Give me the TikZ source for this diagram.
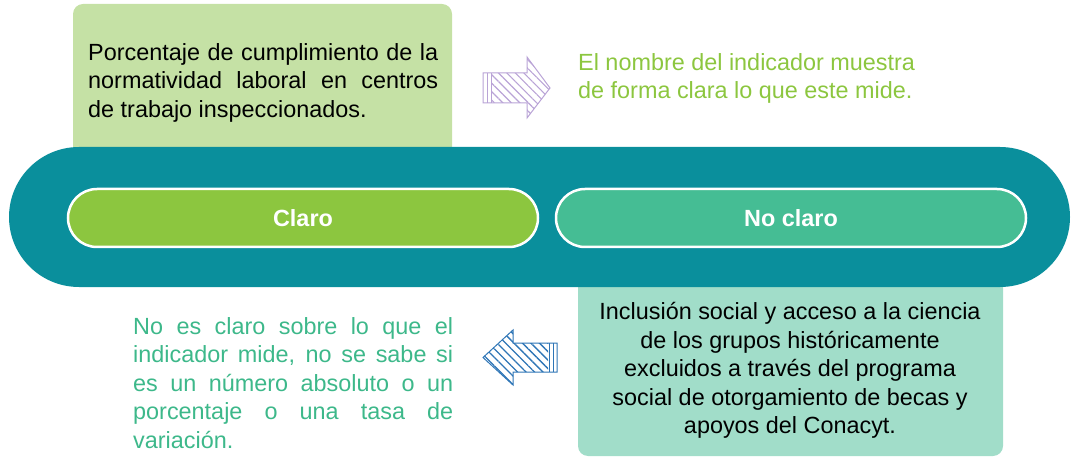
\documentclass[tikz,border=0pt]{standalone}
\usepackage{fontspec}
\setmainfont{Liberation Sans}
\usetikzlibrary{patterns.meta}
\definecolor{band}{HTML}{0A8F9C}
\definecolor{claro}{HTML}{8CC63F}
\definecolor{noclaro}{HTML}{45BD94}
\definecolor{topbox}{HTML}{C5E1A5}
\definecolor{botbox}{HTML}{A1DDC9}
\definecolor{greentxt}{HTML}{8CC63F}
\definecolor{tealtxt}{HTML}{3DB88A}
\definecolor{purp}{HTML}{B9A3D6}
\definecolor{arblue}{HTML}{2E75B6}
\tikzset{
  x=1pt,y=-1pt,
  txt/.style={font=\fontsize{23.4}{28.6}\selectfont, inner sep=0pt, anchor=north west, align=left},
  pill/.style={draw=white, line width=2.5pt, rounded corners=29pt, minimum width=470pt, minimum height=58pt, text=white, font=\fontsize{23.4}{26}\selectfont\bfseries},
  card/.style={rounded corners=10pt},
}
\begin{document}
\begin{tikzpicture}
\useasboundingbox (0,0) rectangle (1071,457);
% cards
\fill[topbox, card] (73,4) rectangle (452,170);
\fill[botbox, card] (578,260) rectangle (1003,456);
% band
\node[fill=band, rounded corners=70pt, minimum width=1061pt, minimum height=140pt, inner sep=0pt] (bandn) at (539.5,217) {};
% pills
\node[pill, fill=claro] (claro) at (303,218) {Claro};
\node[pill, fill=noclaro] (noclaro) at (791,218) {No claro};
% top text
\node[txt, text=black] (t1) at (88,43) {\makebox[350pt][s]{Porcentaje de cumplimiento de la}\\\makebox[350pt][s]{normatividad laboral en centros}\\de trabajo inspeccionados.};
% right text
\node[txt, text=greentxt] (t2) at (578,53) {El nombre del indicador muestra\\de forma clara lo que este mide.};
% bottom left text
\node[txt, text=tealtxt] (t3) at (133,317) {\makebox[320pt][s]{No es claro sobre lo que el}\\\makebox[320pt][s]{indicador mide, no se sabe si}\\\makebox[320pt][s]{es un número absoluto o un}\\\makebox[320pt][s]{porcentaje o una tasa de}\\variación.};
% bottom right text
\node[txt, anchor=north, align=center, text=black] (t4) at (790,302) {Inclusión social y acceso a la ciencia\\de los grupos históricamente\\excluidos a través del programa\\social de otorgamiento de becas y\\apoyos del Conacyt.};
% top arrow
\begin{scope}
\clip (492,73) -- (527,73) -- (527,57) -- (550,88) -- (527,118) -- (527,103) -- (492,103) -- cycle;
\fill[pattern={Lines[angle=-45,distance=6pt,line width=1.1pt]}, pattern color=purp] (480,50) rectangle (555,125);
\end{scope}
\draw[purp, line width=1pt, line join=miter] (483,73) -- (527,73) -- (527,57) -- (550,88) -- (527,118) -- (527,103) -- (483,103) -- cycle;
\draw[purp, line width=1pt] (487,73) -- (487,103) (491,73) -- (491,103);
% bottom arrow
\begin{scope}
\clip (548,343) -- (513,343) -- (513,330) -- (483,357.5) -- (513,385) -- (513,372) -- (548,372) -- cycle;
\fill[pattern={Lines[angle=-45,distance=6pt,line width=1.3pt]}, pattern color=arblue] (478,325) rectangle (560,390);
\end{scope}
\draw[arblue, line width=1pt, line join=miter] (557,343) -- (513,343) -- (513,330) -- (483,357.5) -- (513,385) -- (513,372) -- (557,372) -- cycle;
\draw[arblue, line width=1pt] (549,343) -- (549,372) (553,343) -- (553,372);
\end{tikzpicture}
\end{document}
